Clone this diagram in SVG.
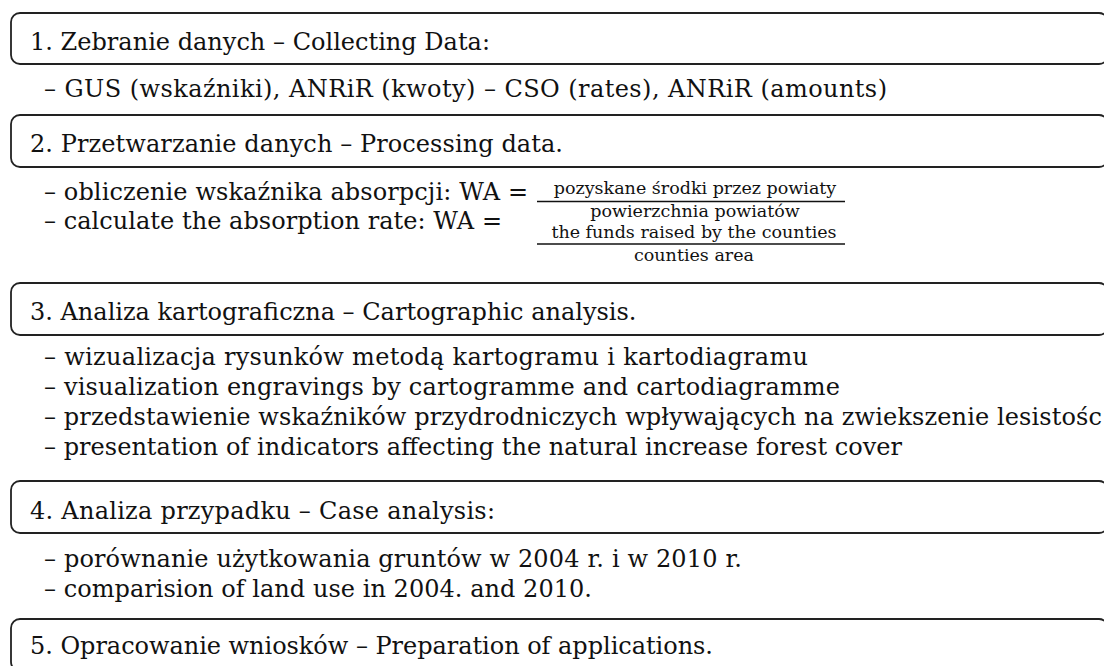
<svg xmlns="http://www.w3.org/2000/svg" width="1104" height="666" viewBox="0 0 1104 666">
<style>
.box{fill:none;stroke:#222;stroke-width:1.8}
.h{font-family:"DejaVu Serif","Liberation Serif",serif;font-size:24px;fill:#111}
.b{font-family:"DejaVu Serif","Liberation Serif",serif;font-size:24px;fill:#111}
.f{font-family:"DejaVu Serif","Liberation Serif",serif;font-size:17.5px;fill:#111;text-anchor:middle}
.fl{stroke:#111;stroke-width:1.3}
</style>
<rect width="1104" height="666" fill="#fff"/>
<g id="step1">
<rect class="box" x="11" y="13" width="1097" height="51" rx="9"/>
<text class="h" x="30" y="50" textLength="460">1. Zebranie danych – Collecting Data:</text>
</g>
<g id="step1-items">
<text class="b" x="44" y="97" textLength="843">– GUS (wskaźniki), ANRiR (kwoty) – CSO (rates), ANRiR (amounts)</text>
</g>
<g id="step2">
<rect class="box" x="11" y="115" width="1097" height="52" rx="9"/>
<text class="h" x="30" y="152" textLength="533">2. Przetwarzanie danych – Processing data.</text>
</g>
<g id="step2-items">
<text class="b" x="44" y="200" textLength="484">– obliczenie wskaźnika absorpcji: WA =</text>
<text class="f" x="695" y="194">pozyskane środki przez powiaty</text>
<line class="fl" x1="537" y1="201.5" x2="845" y2="201.5"/>
<text class="f" x="695" y="217">powierzchnia powiatów</text>
<text class="b" x="44" y="229" textLength="458">– calculate the absorption rate: WA =</text>
<text class="f" x="694" y="238">the funds raised by the counties</text>
<line class="fl" x1="537" y1="244" x2="845" y2="244"/>
<text class="f" x="694" y="261">counties area</text>
</g>
<g id="step3">
<rect class="box" x="11" y="283" width="1097" height="52" rx="9"/>
<text class="h" x="30" y="320">3. Analiza kartograficzna – Cartographic analysis.</text>
</g>
<g id="step3-items">
<text class="b" x="44" y="365" textLength="764">– wizualizacja rysunków metodą kartogramu i kartodiagramu</text>
<text class="b" x="44" y="395" textLength="796">– visualization engravings by cartogramme and cartodiagramme</text>
<text class="b" x="44" y="425" textLength="1058">– przedstawienie wskaźników przydrodniczych wpływających na zwiekszenie lesistośc</text>
<text class="b" x="44" y="455" textLength="858">– presentation of indicators affecting the natural increase forest cover</text>
</g>
<g id="step4">
<rect class="box" x="11" y="481" width="1097" height="52" rx="9"/>
<text class="h" x="30" y="519" textLength="465">4. Analiza przypadku – Case analysis:</text>
</g>
<g id="step4-items">
<text class="b" x="44" y="567" textLength="698">– porównanie użytkowania gruntów w 2004 r. i w 2010 r.</text>
<text class="b" x="44" y="597" textLength="548">– comparision of land use in 2004. and 2010.</text>
</g>
<g id="step5">
<rect class="box" x="11" y="619" width="1097" height="52" rx="9"/>
<text class="h" x="30" y="654" textLength="683">5. Opracowanie wniosków – Preparation of applications.</text>
</g>
<g id="connectors"/>
</svg>
